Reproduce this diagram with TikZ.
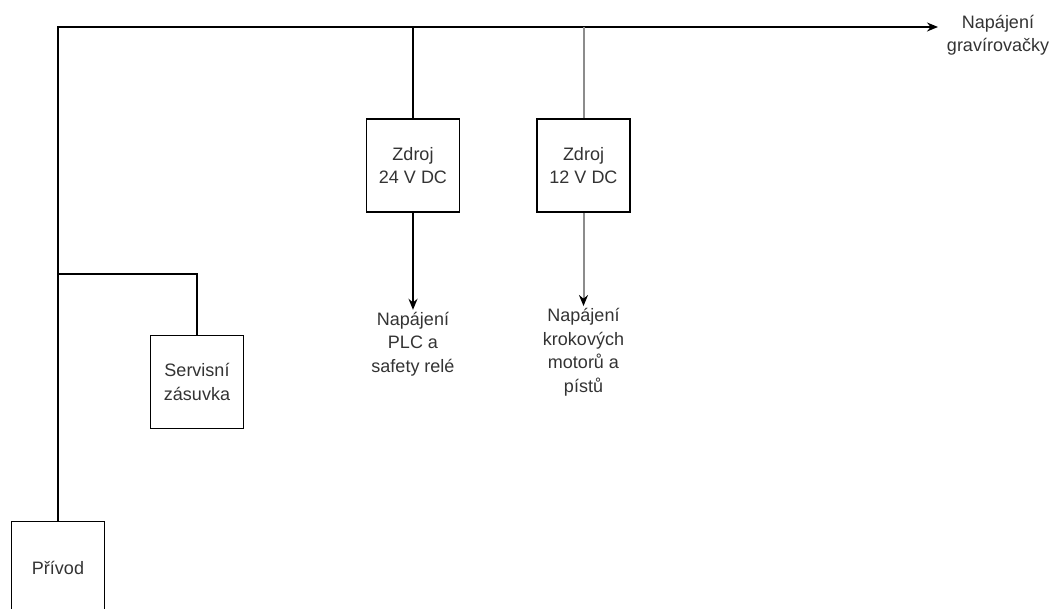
\documentclass[tikz,border=0pt]{standalone}
\usepackage{fontspec}
\setmainfont{Liberation Sans}
\usepackage{tikz}
\definecolor{diagInk}{HTML}{000000}
\definecolor{diagText}{HTML}{333333}
\definecolor{diagGrey}{HTML}{8C8C8C}
\usetikzlibrary{arrows.meta}

\begin{document}
\begin{tikzpicture}[
  x=1pt, y=-1pt,
  font=\fontsize{18}{23.5}\selectfont,
  block/.style={draw=diagInk, line width=1.6pt, minimum width=93pt, minimum height=93pt, fill=white, align=center, text=diagText, inner sep=0pt},
  note/.style={align=center, text=diagText, inner sep=2pt},
  link/.style={line width=1.6pt, diagInk},
  greylink/.style={line width=2pt, diagGrey},
  feed/.style={-{Stealth[length=11pt, width=9pt, color=diagInk]}}
]
\useasboundingbox (0,0) rectangle (1053,609);

% Boxes
\node[block] (privod) at (58,568) {Přívod};
\node[block] (servis) at (197,382) {Servisní\\zásuvka};
\node[block] (zdroj24) at (413,165.5) {Zdroj\\24 V DC};
\node[block] (zdroj12) at (583.5,165.5) {Zdroj\\12 V DC};

% Outputs
\node[note] (gravir) at (998,35) {Napájení\\gravírovačky};
\node[note] (plc) at (413,344) {Napájení\\PLC a\\safety relé};
\node[note] (krok) at (583.5,352) {Napájení\\krokových\\motorů a\\pístů};

% Bus and branches
\coordinate (busTip) at (938,27);
\coordinate (branch) at (59,274);
\draw[link, feed] (privod.north) |- (busTip);
\draw[link] (branch) -| (servis.north);
\draw[link] (zdroj24.north) -- (zdroj24.north |- busTip);
\draw[greylink] (zdroj12.north) -- (zdroj12.north |- busTip);

% Supply outputs
\draw[link, feed] (zdroj24.south) -- (plc.north);
\draw[greylink, feed] (zdroj12.south) -- (krok.north);

\end{tikzpicture}
\end{document}
